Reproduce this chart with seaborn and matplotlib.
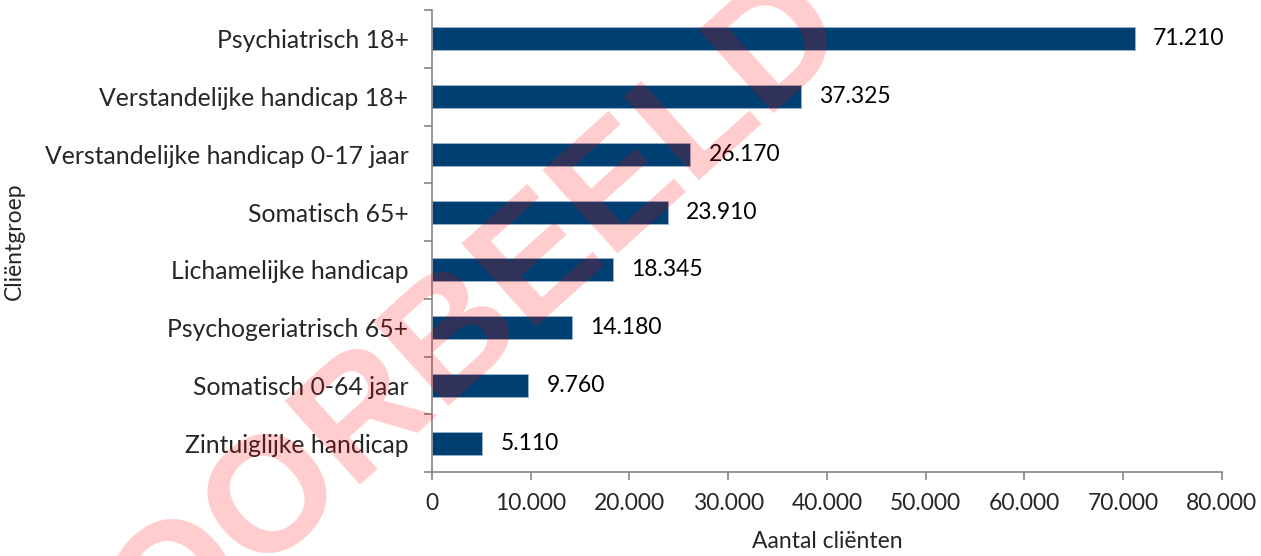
import numpy as np
import pandas as pd
import seaborn as sns
import matplotlib
matplotlib.use("Agg")
import matplotlib.pyplot as plt
from matplotlib.ticker import FuncFormatter, FixedLocator

# data
groepen = [
    "Psychiatrisch 18+",
    "Verstandelijke handicap 18+",
    "Verstandelijke handicap 0-17 jaar",
    "Somatisch 65+",
    "Lichamelijke handicap",
    "Psychogeriatrisch 65+",
    "Somatisch 0-64 jaar",
    "Zintuiglijke handicap",
]
aantallen = [71210, 37325, 26170, 23910, 18345, 14180, 9760, 5110]
x_ticks = [0, 10000, 20000, 30000, 40000, 50000, 60000, 70000, 80000]

df = pd.DataFrame({"Cliëntgroep": groepen, "Aantal cliënten": aantallen})


def nl_getal(v):
    return f"{int(v):,}".replace(",", ".")


sns.set_style("white")
plt.rcParams["font.family"] = ["Lato", "DejaVu Sans"]

fig = plt.figure(figsize=(12.61, 5.56), dpi=100)
ax = fig.add_axes([0.3426, 0.151, 0.6264, 0.831])

sns.barplot(data=df, x="Aantal cliënten", y="Cliëntgroep", orient="h",
            color="#003F71", width=0.4, edgecolor="#9DB3CC", linewidth=0.6,
            saturation=1, ax=ax)

for c in ax.containers:
    ax.bar_label(c, labels=[nl_getal(v) for v in c.datavalues],
                 padding=13, fontsize=16.5, color="black")

ax.set_xlim(0, 80000)
ax.set_ylim(len(groepen) - 0.5, -0.5)
ax.xaxis.set_major_locator(FixedLocator(x_ticks))
ax.xaxis.set_major_formatter(FuncFormatter(lambda v, p: nl_getal(v)))

grijs = "#868686"
for s in ["top", "right"]:
    ax.spines[s].set_visible(False)
for s in ["left", "bottom"]:
    ax.spines[s].set_color(grijs)
    ax.spines[s].set_linewidth(1.2)

ax.tick_params(axis="x", which="major", direction="out", length=6, width=1.2,
               color=grijs, labelsize=16.5, pad=9, bottom=True)
ax.tick_params(axis="y", which="major", length=0, labelsize=17.8, pad=17)
ax.yaxis.set_minor_locator(FixedLocator(np.arange(-0.5, len(groepen), 1.0)))
ax.tick_params(axis="y", which="minor", direction="out", length=6, width=1.2,
               color=grijs, left=True)

ax.set_xlabel("Aantal cliënten", fontsize=16.5, labelpad=12)
ax.set_ylabel("Cliëntgroep", fontsize=16.5)
ax.yaxis.set_label_coords(-0.515, 0.5)

# watermark
fig.text(0.349, 0.361, "VOORBEELD", fontsize=118, fontweight="bold",
         color="red", alpha=0.2, rotation=42, ha="center", va="center",
         family="Liberation Sans", zorder=10)

fig.savefig("out.png", dpi=100)
